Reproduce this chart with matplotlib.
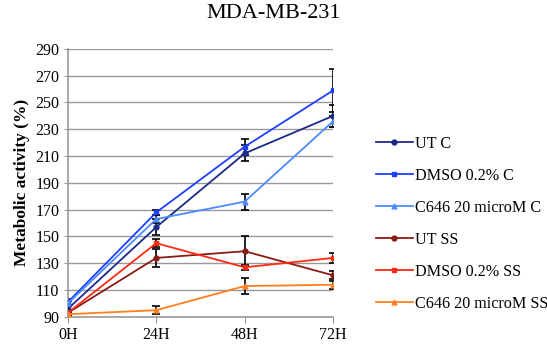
import matplotlib
matplotlib.use('Agg')
import matplotlib.pyplot as plt

plt.rcParams['font.family'] = ['Liberation Serif', 'DejaVu Serif']

# data
times = ['0H', '24H', '48H', '72H']
labels = ['UT C', 'DMSO 0.2% C', 'C646 20 microM C', 'UT SS', 'DMSO 0.2% SS', 'C646 20 microM SS']
ut_c = [96, 157, 212, 240]
dmso_c = [101, 168, 217, 259]
c646_c = [100, 163, 176, 236]
ut_ss = [93, 134, 139, 121]
dmso_ss = [93, 145, 127, 134]
c646_ss = [92, 95, 113, 114]
err_ut_c = [2, 6, 6, 8]
err_dmso_c = [2, 2, 6, 16]
err_c646_c = [2, 3, 6, 4]
err_ut_ss = [2, 7, 11, 3]
err_dmso_ss = [2, 3, 2, 4]
err_c646_ss = [1, 3, 6, 3]

series = [ut_c, dmso_c, c646_c, ut_ss, dmso_ss, c646_ss]
errs = [err_ut_c, err_dmso_c, err_c646_c, err_ut_ss, err_dmso_ss, err_c646_ss]
colors = ['#1c2a8c', '#1f3fff', '#4a8cff', '#8b1c14', '#ff2a14', '#ff7f1e']
markers = ['o', 's', '^', 'o', 's', '^']

fig = plt.figure(figsize=(5.47, 3.49), dpi=100)
ax = fig.add_axes([0.124, 0.092, 0.485, 0.768])

x = list(range(len(times)))
handles = []
for i in range(len(series)):
    ax.errorbar(x, series[i], yerr=errs[i], fmt='none', ecolor='black',
                elinewidth=1.2, capsize=3, capthick=1.2, zorder=2)
    h, = ax.plot(x, series[i], color=colors[i], marker=markers[i], markersize=3.5,
                 linewidth=1.3, label=labels[i], zorder=3)
    handles.append(h)

ax.set_xlim(0, 3)
ax.set_ylim(90, 290)
ax.set_yticks(range(90, 291, 20))
ax.set_xticks(x)
ax.set_xticklabels(times)
ax.yaxis.grid(True, color='#999999', linewidth=1.0)
ax.set_axisbelow(True)
for s in ['top', 'right']:
    ax.spines[s].set_visible(False)
ax.spines['left'].set_color('#999999')
ax.spines['bottom'].set_color('#999999')
ax.spines['left'].set_linewidth(1.2)
ax.spines['bottom'].set_linewidth(1.2)
ax.tick_params(axis='y', length=3, color='#999999', labelsize=11.5, pad=3)
ax.tick_params(axis='x', length=4, color='#999999', labelsize=11.5, direction='out')

ax.set_ylabel('Metabolic activity (%)', fontsize=12.5, fontweight='bold', labelpad=4)
fig.text(0.501, 0.962, 'MDA-MB-231', fontsize=16, ha='center', va='center')

fig.legend(handles=handles, labels=labels, loc='upper left',
           bbox_to_anchor=(0.675, 0.63), frameon=False, fontsize=11.6,
           handlelength=2.3, handletextpad=0.15, labelspacing=1.0, borderaxespad=0)

fig.savefig('out.png', dpi=100)
